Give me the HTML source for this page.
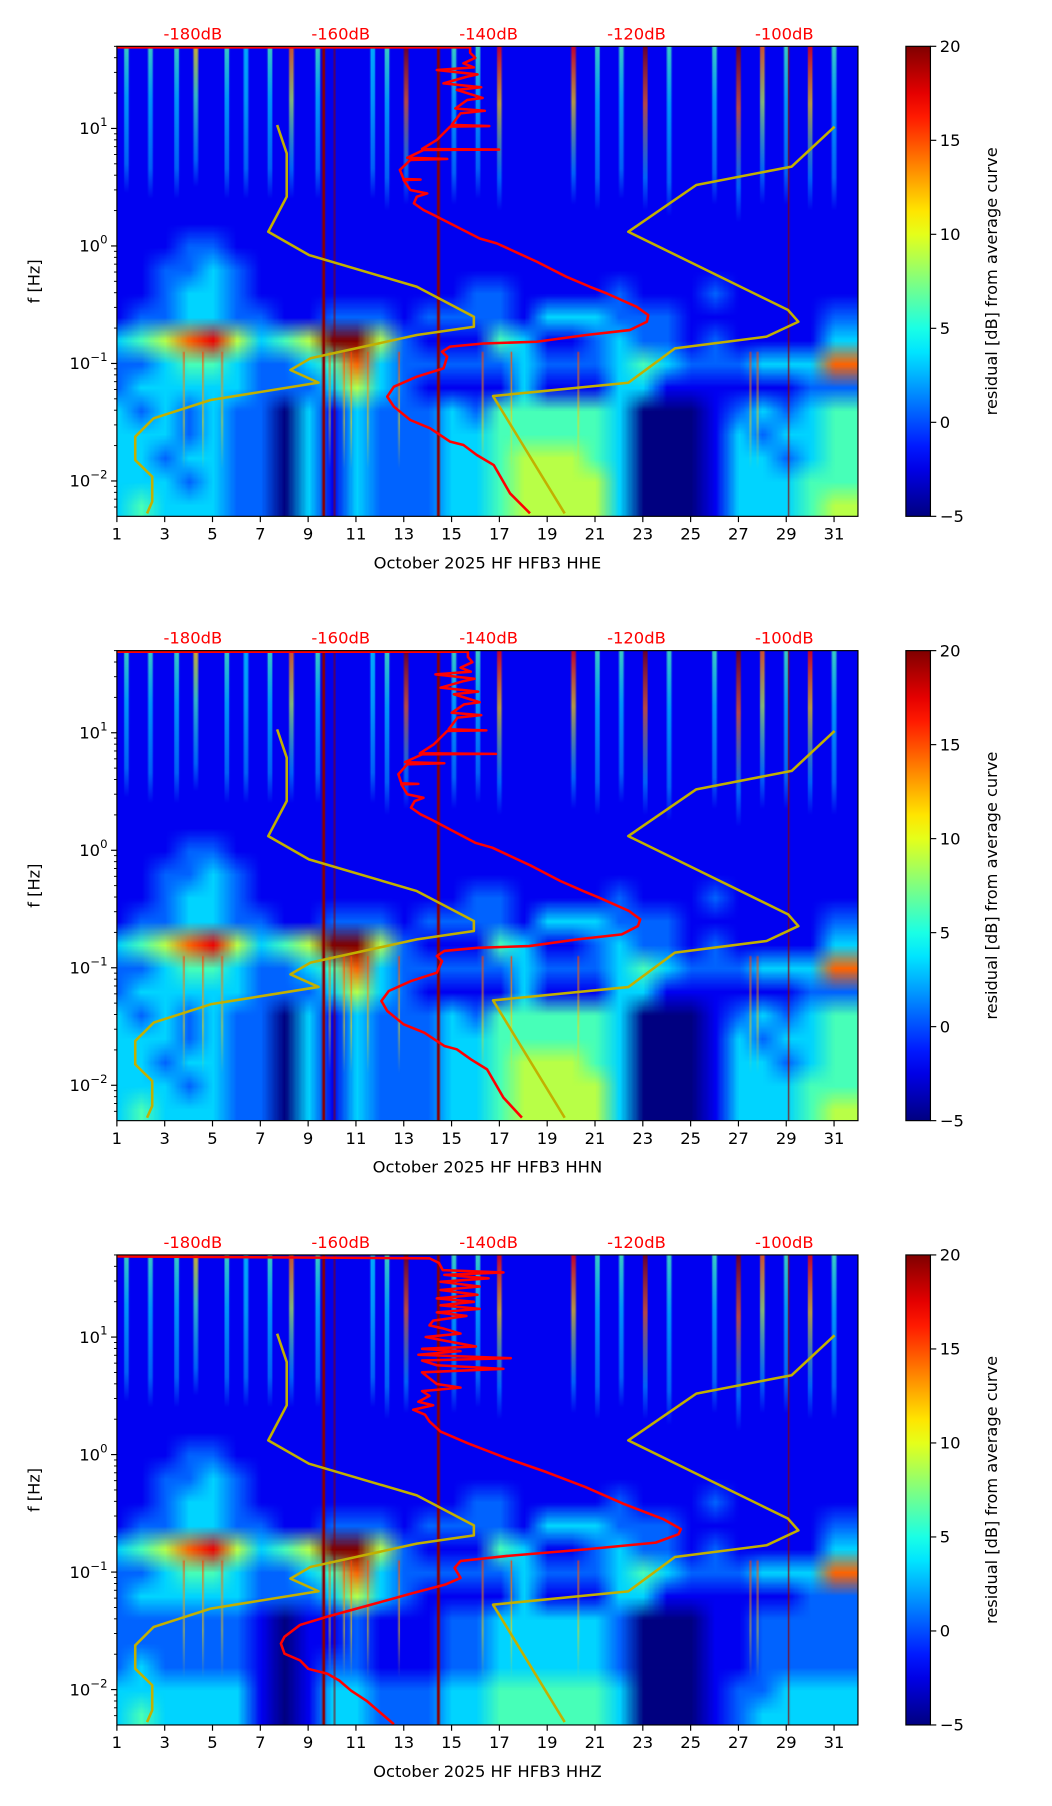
<!DOCTYPE html>
<html><head><meta charset="utf-8">
<style>
html,body{margin:0;padding:0;background:#fff;}
#wrap{position:relative;width:1052px;height:1806px;overflow:hidden;background:#fff;}
#root{position:absolute;left:0;top:0;width:900px;height:1560px;transform:scale(1.168889,1.157692);transform-origin:0 0;}
canvas{position:absolute;}
svg{position:absolute;left:0;top:0;}
text{font-family:"DejaVu Sans","Liberation Sans",sans-serif;}
</style></head>
<body>
<div id="wrap">
<div id="root">
<svg id="svg" width="900" height="1560" viewBox="0 0 900 1560"></svg>
</div></div>
<script>
// ---------- data ----------
const panelTitles = ["October 2025 HF HFB3  HHE","October 2025 HF HFB3  HHN","October 2025 HF HFB3  HHZ"];
const dayTicks = [1,3,5,7,9,11,13,15,17,19,21,23,25,27,29,31];
const dbTicks = [-180,-160,-140,-120,-100];
const cbTicks = [20,15,10,5,0,-5];
const yDecades = [1,0,-1,-2];
// heatmap rows: top (50 Hz) to bottom (0.005 Hz), 0.2 decade each, one char per day (level 0..9 -> -5..20 dB)
const heatRows = [
"1111111111111111111111111111111",
"1111111111111111111111111111111",
"1111111111111111111111111111111",
"1111111111111111111111111111111",
"1111111111111111111111111111111",
"1111111111111111111111111111111",
"1111111111111111111111111111111",
"1111111111111111111111111111111",
"1112211111111111111111111111111",
"1122321111111111111111111111111",
"1123321111111112211112111211111",
"1223322112221222213332221111112",
"3457853459952111431123221211113",
"2234432234732222232223432223337",
"2333332223532111131113311111122",
"3232322031322232444443000123234",
"3332322031322233444443000132334",
"3323322031322233455543000133234",
"3332322031322233455553000133344",
"3433322031322233455553000133345"];
const heatRowsZLow = [
"2222221011211122333332000112222",
"2222221011211122333332000112222",
"2322221012211122333332000112222",
"3333331013322233444443000122333",
"3433331013322233444443000123333"];
// high-frequency transient streaks
const streakDay = [1.4,2.4,3.5,4.3,5.6,6.4,7.4,8.3,9.4,11.7,12.3,13.1,15.1,16.1,17.0,20.1,21.1,22.1,23.1,24.1,26.0,27.0,28.0,29.0,30.0,31.0];
const streakLvl = [4,4,4,6,4,3,4,7,4,3,4,9,4,4,8,8,4,4,9,4,4,9,7,4,8,4];
const streakEnd = [0.45,0.4,0.4,0.5,0.4,0.4,0.4,0.4,0.4,0.4,0.3,0.35,0.35,0.4,0.3,0.35,0.3,0.4,0.3,0.25,0.35,0.2,0.35,0.35,0.3,0.3];
const lineDay = [9.65,10.1,14.45,29.1];
const lineW = [2.5,1,2.5,1];
const lowStreakDay = [3.8,4.6,5.4,9.9,10.5,10.8,11.5,12.8,16.3,17.5,20.3,27.5,27.8];
// PSD curves (dB vs log10 f), bottom to top
const red1dB = [-134.4,-137.1,-139.3,-141.6,-143.4,-145.2,-147.9,-150.6,-152.8,-153.7,-152.8,-149.7,-146.1,-145.6,-146.3,-145.2,-140.7,-133.5,-126.8,-120.9,-118.6,-118.4,-120.0,-124.0,-126.3,-129.5,-133.5,-138.9,-141.2,-147.4,-148.8,-150.1,-149.7,-148.3,-150.6,-151.5,-149.2,-151.5,-152.0,-150.6,-145.6,-151,-148.8,-138.6,-149,-147.0,-145.2,-139.9,-145,-143.8,-140.5,-144.5,-142.9,-140.8,-144.3,-141,-146.1,-142.9,-141.5,-147.0,-142,-143.4,-141.8,-142.5,-142.5,-200];
const red1F = [-2.275,-2.105,-1.865,-1.779,-1.694,-1.666,-1.552,-1.481,-1.368,-1.282,-1.198,-1.113,-1.042,-0.943,-0.900,-0.857,-0.830,-0.815,-0.758,-0.716,-0.645,-0.588,-0.517,-0.404,-0.347,-0.262,-0.134,0.022,0.064,0.263,0.306,0.363,0.419,0.447,0.476,0.561,0.565,0.57,0.647,0.732,0.74,0.75,0.816,0.82,0.825,0.902,1.015,1.02,1.03,1.129,1.15,1.17,1.242,1.26,1.328,1.35,1.384,1.441,1.46,1.497,1.52,1.554,1.6,1.645,1.69,1.69];
const red2dB = [-135.5,-138.0,-140.2,-142.4,-144.3,-146.0,-148.7,-151.5,-153.7,-154.5,-153.5,-150.5,-147.0,-146.3,-147.0,-146.0,-141.5,-134.5,-128.0,-122.0,-119.8,-119.5,-121.0,-125.0,-127.2,-130.3,-134.2,-139.5,-141.8,-147.8,-149.2,-150.5,-150.0,-148.8,-151.0,-151.8,-149.5,-151.8,-152.2,-151.0,-146.0,-151.3,-149.0,-139.0,-149.3,-147.4,-145.6,-140.3,-145.4,-144.2,-141.0,-145.0,-143.3,-141.2,-144.7,-141.4,-146.5,-143.3,-141.9,-147.2,-142.4,-143.8,-142.2,-142.8,-142.8,-200];
const red2F = red1F.slice();
const red3dB = [-152.8,-156.5,-158.6,-160.2,-161.8,-164.4,-165.5,-167.6,-168.1,-167.6,-165.5,-161.8,-156.0,-150.2,-145.9,-143.8,-144.6,-143.8,-137.5,-126.9,-117.4,-114.3,-114.0,-116.4,-121.7,-126.9,-132.2,-137.5,-142.8,-146.5,-148.0,-148.6,-150.2,-147.5,-149.5,-148,-149,-143.8,-147,-148,-149,-138,-147,-149,-137,-149.5,-143.8,-149,-141.7,-146,-148.5,-143.8,-146,-148,-147.5,-143,-147,-141.2,-146.5,-142,-147,-141.5,-146.5,-141.2,-146.5,-140,-146,-138.0,-146.2,-146.7,-148,-200];
const red3F = [-2.295,-2.095,-2.009,-1.923,-1.866,-1.823,-1.751,-1.694,-1.608,-1.550,-1.450,-1.379,-1.279,-1.178,-1.107,-1.050,-0.964,-0.906,-0.863,-0.806,-0.749,-0.677,-0.634,-0.548,-0.420,-0.276,-0.148,-0.033,0.096,0.196,0.282,0.339,0.382,0.42,0.45,0.50,0.54,0.57,0.60,0.65,0.70,0.73,0.76,0.80,0.82,0.85,0.88,0.90,0.92,0.97,1.00,1.03,1.07,1.10,1.14,1.18,1.21,1.24,1.27,1.30,1.33,1.36,1.40,1.43,1.47,1.50,1.53,1.55,1.57,1.63,1.67,1.69];
// noise models
const nlnmDB = [-168.6,-167.3,-167.3,-169.8,-164.3,-149.7,-142.0,-142.0,-149.7,-164.1,-166.8,-163.0,-177.6,-185.3,-187.8,-187.8,-185.5,-185.5,-186.2];
const nlnmF = [1.029,0.788,0.419,0.121,-0.077,-0.347,-0.602,-0.687,-0.758,-0.956,-1.056,-1.163,-1.311,-1.467,-1.623,-1.822,-1.963,-2.176,-2.276];
const nhnmDB = [-93.2,-99.0,-111.9,-121.1,-99.5,-98.1,-102.4,-114.8,-121.1,-139.4,-129.7];
const nhnmF = [1.015,0.675,0.519,0.121,-0.545,-0.645,-0.772,-0.871,-1.164,-1.277,-2.276];
const redSets = [[red1dB,red1F],[red2dB,red2F],[red3dB,red3F]];

// ---------- layout ----------
const PL=100, PW=634, PH=406, panelTops=[40,562,1084];
const DAY0=1, DAY1=32, F0=1.699, F1=-2.301;
const NS="http://www.w3.org/2000/svg";
const svg=document.getElementById('svg');
const root=document.getElementById('root');
function xDay(d){return PL+(d-DAY0)/(DAY1-DAY0)*PW;}
function yF(lf,top){return top+(F0-lf)/(F0-F1)*PH;}
function xDB(db){return 165+(db+180)*6.325;}
function jet(t){t=Math.max(0,Math.min(1,t));const c=v=>Math.round(255*Math.max(0,Math.min(1,v)));
 return [c(1.5-Math.abs(4*t-3)),c(1.5-Math.abs(4*t-2)),c(1.5-Math.abs(4*t-1))];}
function rgb(a,al){return al===undefined?`rgb(${a[0]},${a[1]},${a[2]})`:`rgba(${a[0]},${a[1]},${a[2]},${al})`;}
function el(tag,attrs,parent){const e=document.createElementNS(NS,tag);for(const k in attrs)e.setAttribute(k,attrs[k]);(parent||svg).appendChild(e);return e;}

const defs=el('defs',{});
const grad=el('linearGradient',{id:'jetg',x1:0,y1:1,x2:0,y2:0},defs);
for(let i=0;i<=20;i++){el('stop',{offset:i/20,'stop-color':rgb(jet(i/20))},grad);}

panelTops.forEach((T,p)=>{
 const cv=document.createElement('canvas');
 cv.width=PW;cv.height=PH;cv.style.left=PL+'px';cv.style.top=T+'px';
 
 
 root.insertBefore(cv,svg);
 const ctx=cv.getContext('2d');
 const NC=32, NR=heatRows.length;
 const off=document.createElement('canvas');off.width=NC;off.height=NR;
 const oc=off.getContext('2d');const img=oc.createImageData(NC,NR);
 heatRows.forEach((row,r)=>{
  let src=row;
  if(p===2&&r>=15)src=heatRowsZLow[r-15];
  for(let c=0;c<NC;c++){const ch=src[Math.min(c,30)]||'1';const L=parseInt(ch);const col=jet(L/9);const k=(r*NC+c)*4;
   img.data[k]=col[0];img.data[k+1]=col[1];img.data[k+2]=col[2];img.data[k+3]=255;}
 });
 oc.putImageData(img,0,0);
 ctx.imageSmoothingEnabled=true;
 const cw=PW/31;
 ctx.drawImage(off,0,0,NC,NR,-cw/2,0,NC*cw,PH);
 streakDay.forEach((d,i)=>{
  const x=xDay(d)-PL, w=4, yEnd=yF(streakEnd[i],T)-T;
  const g=ctx.createLinearGradient(0,0,0,yEnd);
  g.addColorStop(0,rgb(jet(streakLvl[i]/9),0.8));
  g.addColorStop(0.35,rgb(jet(Math.max(streakLvl[i]-2,3)/9),0.7));
  g.addColorStop(0.8,rgb(jet(3/9),0.45));
  g.addColorStop(1,rgb(jet(3/9),0));
  ctx.fillStyle=g;ctx.fillRect(x-w/2,0,w,yEnd);
 });
 lowStreakDay.forEach((d,i)=>{
  const x=xDay(d)-PL, y0=yF(-0.9,T)-T, y1=yF(-1.9,T)-T;
  const g=ctx.createLinearGradient(0,y0,0,y1);
  g.addColorStop(0,'rgba(255,60,0,0.9)');g.addColorStop(0.6,'rgba(255,220,0,0.7)');g.addColorStop(1,'rgba(255,220,0,0)');
  ctx.fillStyle=g;ctx.fillRect(x-0.6,y0,1.2,y1-y0);
 });
 lineDay.forEach((d,i)=>{ctx.fillStyle='#8b0000';ctx.fillRect(xDay(d)-PL-lineW[i]/2,0,lineW[i],PH);});

 const cp=el('clipPath',{id:'clip'+p},defs);
 el('rect',{x:PL,y:T,width:PW,height:PH},cp);
 const g=el('g',{'clip-path':`url(#clip${p})`});
 
 
 const pts=(dbs,fs)=>dbs.map((v,i)=>xDB(v).toFixed(1)+','+yF(fs[i],T).toFixed(1)).join(' ');
 const nl=el('polyline',{points:pts(nlnmDB,nlnmF),fill:'none',stroke:'#c2b000','stroke-width':2.2,'stroke-linejoin':'round'},g);
 
 
 const nh=el('polyline',{points:pts(nhnmDB,nhnmF),fill:'none',stroke:'#c2b000','stroke-width':2.2,'stroke-linejoin':'round'},g);
 
 
 const rs=redSets[p];
 const rc=el('polyline',{points:pts(rs[0],rs[1]),fill:'none',stroke:'#ff0000','stroke-width':2.2,'stroke-linejoin':'round'},g);
 
 

 const fr=el('rect',{x:PL,y:T,width:PW,height:PH,fill:'none',stroke:'#000','stroke-width':1});
 
 
 dayTicks.forEach(d=>{const x=xDay(d);
  el('line',{x1:x,y1:T+PH,x2:x,y2:T+PH+5,stroke:'#000','stroke-width':1});
  const t=el('text',{x:x,y:T+PH+20,'text-anchor':'middle','font-size':14,fill:'#000'});t.textContent=d;
  
  
 });
 const xl=el('text',{x:PL+PW/2,y:T+PH+45,'text-anchor':'middle','font-size':14,fill:'#000'});xl.textContent=panelTitles[p];
 
 
 dbTicks.forEach(v=>{const t=el('text',{x:xDB(v),y:T-6,'text-anchor':'middle','font-size':14,fill:'#ff0000'});t.textContent=v+'dB';
  
  });
 for(let d=-3;d<=1;d++){for(let k=1;k<=9;k++){const lf=d+Math.log10(k);if(lf<F1-1e-6||lf>F0+1e-6)continue;
  const y=yF(lf,T);el('line',{x1:PL-(k===1?5:2.5),y1:y,x2:PL,y2:y,stroke:'#000','stroke-width':k===1?1:0.8});}}
 yDecades.forEach(d=>{const y=yF(d,T);
  const t=el('text',{x:PL-8,y:y+5,'text-anchor':'end','font-size':14,fill:'#000'});
  
  
  t.appendChild(document.createTextNode('10'));
  const s=el('tspan',{dy:-7,'font-size':10},t);s.textContent=d<0?'\u2212'+(-d):String(d);
 });
 const yl=el('text',{x:34,y:T+PH/2,'text-anchor':'middle','font-size':14,fill:'#000',transform:`rotate(-90 34 ${T+PH/2})`});yl.textContent='f [Hz]';
 
 
 const cb=el('rect',{x:775,y:T,width:21,height:PH,fill:'url(#jetg)',stroke:'#000','stroke-width':1});
 
 
 cbTicks.forEach(v=>{const y=T+(20-v)/25*PH;
  el('line',{x1:796,y1:y,x2:801,y2:y,stroke:'#000','stroke-width':1});
  const t=el('text',{x:804,y:y+5,'font-size':14,fill:'#000'});t.textContent=v<0?'\u2212'+(-v):String(v);
  
  
 });
 const cl=el('text',{x:853,y:T+PH/2,'text-anchor':'middle','font-size':14,fill:'#000',transform:`rotate(-90 853 ${T+PH/2})`});cl.textContent='residual [dB] from average curve';
 
 
});
</script>
</body></html>
